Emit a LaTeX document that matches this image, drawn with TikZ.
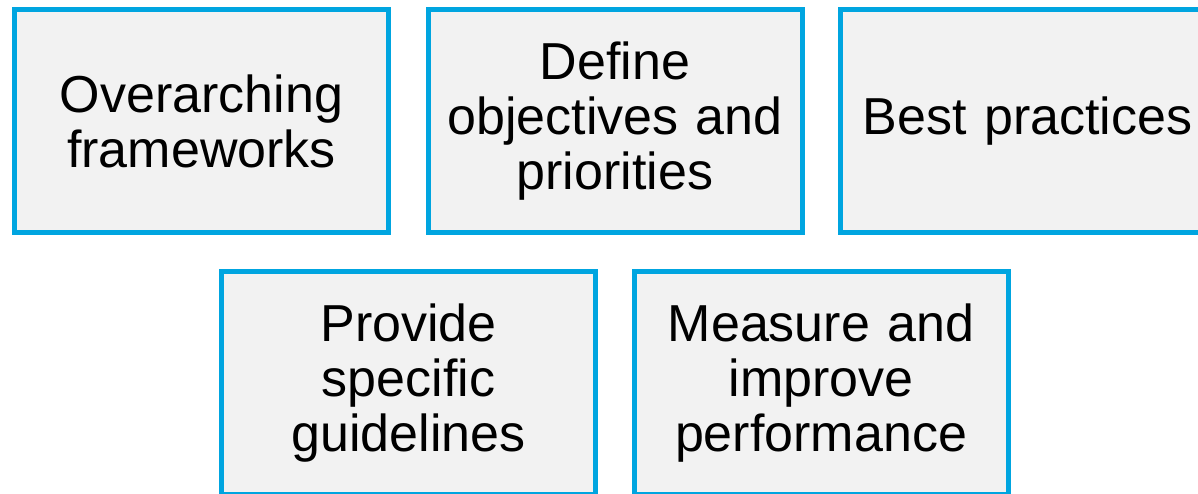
\documentclass[tikz,border=0pt]{standalone}
\usepackage{fontspec}
\setmainfont{Liberation Sans}
\definecolor{boxblue}{RGB}{0,165,224}
\definecolor{boxfill}{RGB}{242,242,242}
\tikzset{
  topicbox/.style={
    draw=boxblue, fill=boxfill, line width=2.5pt,
    minimum width=187pt, minimum height=111.5pt,
    text width=180pt, align=center, inner sep=0pt,
    font=\fontsize{26}{27.5}\selectfont
  }
}
\begin{document}
\begin{tikzpicture}[x=0.5pt,y=-0.5pt]
\useasboundingbox (0,0) rectangle (1198,493);
\begin{scope}
\clip (0,0) rectangle (1198,493);
\node[topicbox] (frameworks) at (201.5,121) {Overarching\\frameworks};
\node[topicbox] (objectives) at (615,121) {Define\\objectives and\\priorities};
\node[topicbox] (practices) at (1027.5,121) {Best practices};
\node[topicbox] (guidelines) at (408.5,383) {Provide\\specific\\guidelines};
\node[topicbox] (performance) at (821,383) {Measure and\\improve\\performance};
\end{scope}
\end{tikzpicture}
\end{document}
